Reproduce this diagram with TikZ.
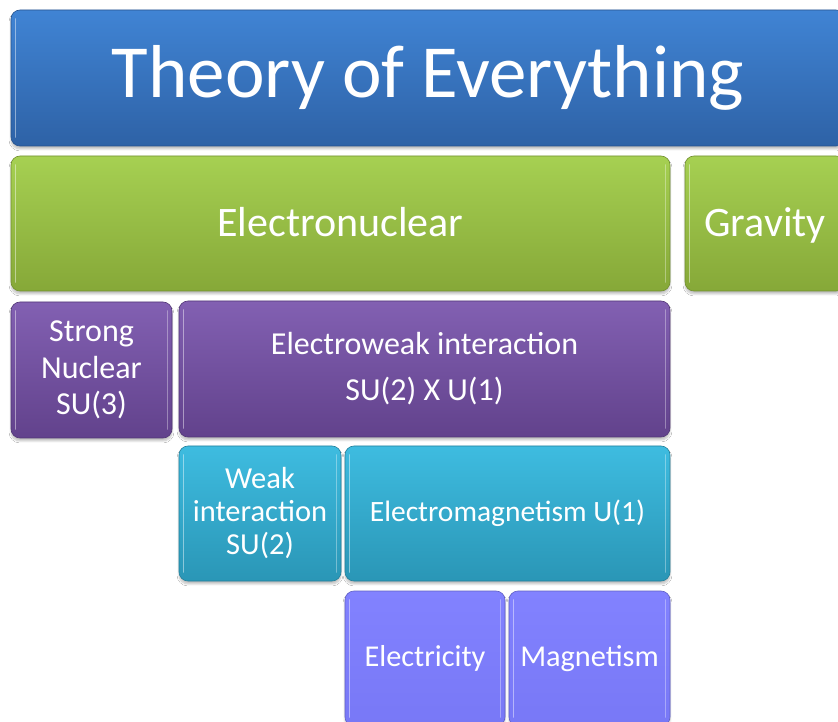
\documentclass[tikz,border=0pt]{standalone}
\usepackage{fontspec}
\setmainfont{Carlito}
\usetikzlibrary{shadows,shadows.blur}
\definecolor{bluetop}{RGB}{64,132,212}
\definecolor{bluebot}{RGB}{46,98,166}
\definecolor{greentop}{RGB}{166,208,82}
\definecolor{greenbot}{RGB}{134,168,56}
\definecolor{purptop}{RGB}{130,96,178}
\definecolor{purpbot}{RGB}{98,66,140}
\definecolor{tealtop}{RGB}{62,188,224}
\definecolor{tealbot}{RGB}{42,150,182}
\definecolor{lavtop}{RGB}{130,130,255}
\definecolor{lavbot}{RGB}{120,120,246}
\tikzset{
  tile/.style={rounded corners=9pt, text=white, align=center, inner sep=2pt,
    blur shadow={shadow xshift=0pt, shadow yshift=-3pt, shadow opacity=25, shadow blur steps=6},
    path picture={
      \draw[white, opacity=.45, line width=1.6pt, line cap=round]
        ([xshift=4.5pt,yshift=-9pt]path picture bounding box.north west) --
        ([xshift=4.5pt,yshift=9pt]path picture bounding box.south west);
      \draw[white, opacity=.35, line width=1.6pt, line cap=round]
        ([xshift=-4.5pt,yshift=-9pt]path picture bounding box.north east) --
        ([xshift=-4.5pt,yshift=9pt]path picture bounding box.south east);
    }},
  bluetile/.style={tile, top color=bluetop, bottom color=bluebot, draw=bluebot!85!black, line width=0.6pt},
  greentile/.style={tile, top color=greentop, bottom color=greenbot, draw=greenbot!85!black, line width=0.6pt},
  purptile/.style={tile, top color=purptop, bottom color=purpbot, draw=purpbot!85!black, line width=0.6pt},
  tealtile/.style={tile, top color=tealtop, bottom color=tealbot, draw=tealbot!85!black, line width=0.6pt},
  lavtile/.style={tile, top color=lavtop, bottom color=lavbot, draw=lavbot!80!black, line width=0.6pt},
  big/.style={font=\fontsize{75}{80}\selectfont},
  mid/.style={font=\fontsize{42}{46}\selectfont},
  fs/.style={font=\fontsize{#1}{1.15*#1}\selectfont},
}
\begin{document}
\begin{tikzpicture}[x=1pt,y=1pt]
\useasboundingbox (0,0) rectangle (838,721);
\clip (0,0) rectangle (838,721);
\fill[white] (0,0) rectangle (838,721);
% y_tikz = 721 - y_px
\node[bluetile, big, minimum width=834pt, minimum height=136pt] (toe) at (428,643) {Theory of Everything};
\node[greentile, mid, minimum width=659pt, minimum height=135pt, text height=29pt, text depth=2pt] (en) at (340.5,497.5) {Electronuclear};
\node[greentile, mid, minimum width=160pt, minimum height=135pt, text height=29pt, text depth=2pt] (grav) at (765,497.5) {Gravity};
\node[purptile, font=\fontsize{32}{36.5}\selectfont, minimum width=161pt, minimum height=136pt] (strong) at (91.5,351) {Strong\\Nuclear\\SU(3)};
\node[purptile, font=\fontsize{32}{36}\selectfont, minimum width=491pt, minimum height=136pt] (ew) at (424.5,352) {Electroweak interaction\\[10pt]SU(2) X U(1)};
\node[tealtile, font=\fontsize{30.5}{33}\selectfont, minimum width=162pt, minimum height=135pt] (weak) at (260,207.5) {Weak\\interaction\\SU(2)};
\node[tealtile, font=\fontsize{29.5}{34}\selectfont, minimum width=325pt, minimum height=135pt] (em) at (507.5,207.5) {Electromagnetism U(1)};
\node[lavtile, font=\fontsize{30.3}{34}\selectfont, minimum width=160pt, minimum height=135pt] (elec) at (425,62.5) {Electricity};
\node[lavtile, font=\fontsize{30.3}{34}\selectfont, minimum width=161pt, minimum height=135pt] (mag) at (589.5,62.5) {Magnetism};
\end{tikzpicture}
\end{document}
